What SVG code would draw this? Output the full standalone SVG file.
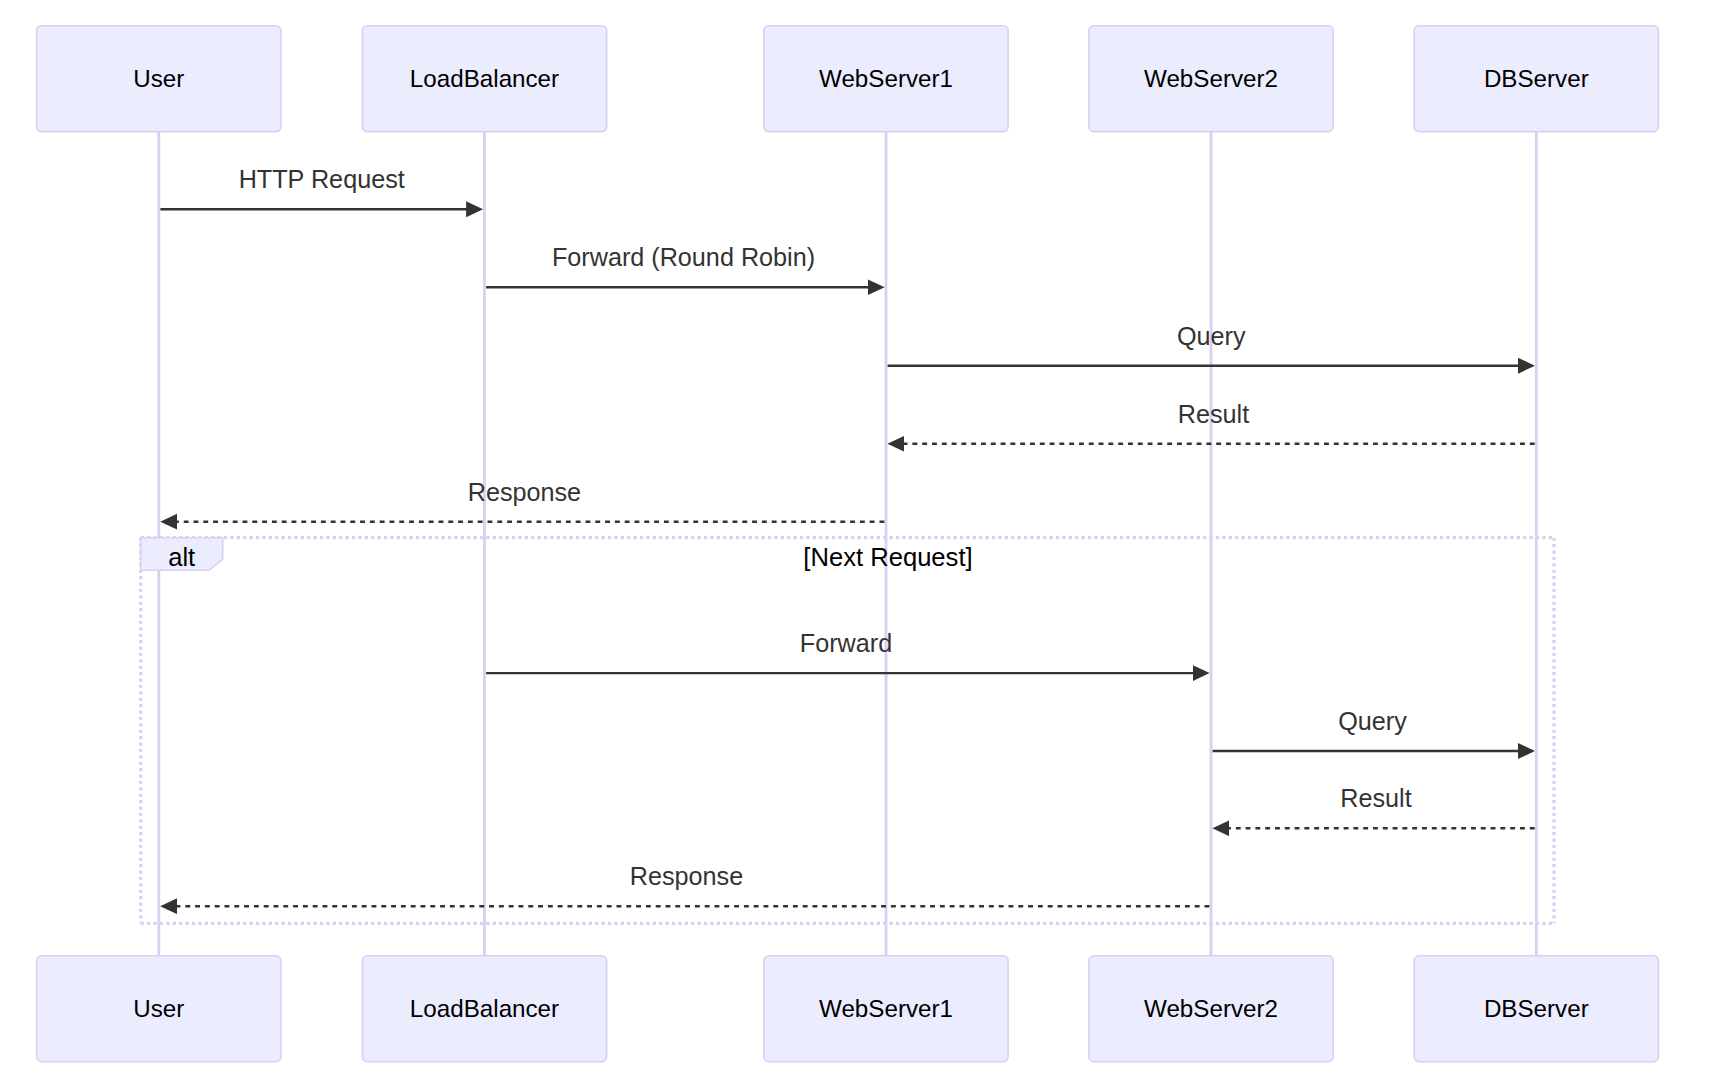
<svg xmlns="http://www.w3.org/2000/svg" width="1712" height="1090" viewBox="0 0 1712 1090">
<style>
.actor{fill:#ECECFF;stroke:#DACEF3;stroke-width:1.6}
.actor-text{font-family:"Liberation Sans",Arial,sans-serif;font-size:24.2px;fill:#000;text-anchor:middle}
.lifeline{stroke:#DACEF3;stroke-width:2.8}
.msg{stroke:#333;stroke-width:2.4;fill:none}
.dashed{stroke-dasharray:4.9,4.9}
.msg-text{font-family:"Liberation Sans",Arial,sans-serif;font-size:25.2px;fill:#333;text-anchor:middle}
.loop-line{stroke:#DACEF3;stroke-width:3.2;stroke-dasharray:3.2,3.2;fill:none}
.label-box{fill:#ECECFF;stroke:#DACEF3;stroke-width:1.6}
.label-text{font-family:"Liberation Sans",Arial,sans-serif;font-size:25.6px;fill:#000;text-anchor:middle}
</style>
<defs>
<marker id="arrowhead" markerUnits="userSpaceOnUse" markerWidth="20" markerHeight="20" refX="13.5" refY="8" orient="auto">
<path d="M0,0 L17,8 L0,16 z" fill="#333"/>
</marker>
</defs>
<rect width="1712" height="1090" fill="#fff"/>
<g id="lifelines">
<line class="lifeline" x1="158.8" y1="131.6" x2="158.8" y2="955.8"/>
<line class="lifeline" x1="484.5" y1="131.6" x2="484.5" y2="955.8"/>
<line class="lifeline" x1="886" y1="131.6" x2="886" y2="955.8"/>
<line class="lifeline" x1="1211" y1="131.6" x2="1211" y2="955.8"/>
<line class="lifeline" x1="1536.3" y1="131.6" x2="1536.3" y2="955.8"/>
</g>
<g id="alt-frame">
<line class="loop-line" x1="140.7" y1="537.7" x2="1554" y2="537.7"/>
<line class="loop-line" x1="1554" y1="537.7" x2="1554" y2="923.3"/>
<line class="loop-line" x1="140.7" y1="923.3" x2="1554" y2="923.3"/>
<line class="loop-line" x1="140.7" y1="537.7" x2="140.7" y2="923.3"/>
<polygon class="label-box" points="140.7,537.7 222.7,537.7 222.7,559 209,570.3 140.7,570.3"/>
<text class="label-text" x="181.7" y="565.5">alt</text>
<text class="label-text" x="888" y="565.5">[Next Request]</text>
</g>
<g id="actor-User">
<rect class="actor" x="36.7" y="25.7" width="244.2" height="105.9" rx="4.9"/>
<text class="actor-text" x="158.8" y="87.4">User</text>
<rect class="actor" x="36.7" y="955.8" width="244.2" height="105.9" rx="4.9"/>
<text class="actor-text" x="158.8" y="1016.8">User</text>
</g>
<g id="actor-LoadBalancer">
<rect class="actor" x="362.4" y="25.7" width="244.2" height="105.9" rx="4.9"/>
<text class="actor-text" x="484.5" y="87.4">LoadBalancer</text>
<rect class="actor" x="362.4" y="955.8" width="244.2" height="105.9" rx="4.9"/>
<text class="actor-text" x="484.5" y="1016.8">LoadBalancer</text>
</g>
<g id="actor-WebServer1">
<rect class="actor" x="763.9" y="25.7" width="244.2" height="105.9" rx="4.9"/>
<text class="actor-text" x="886" y="87.4">WebServer1</text>
<rect class="actor" x="763.9" y="955.8" width="244.2" height="105.9" rx="4.9"/>
<text class="actor-text" x="886" y="1016.8">WebServer1</text>
</g>
<g id="actor-WebServer2">
<rect class="actor" x="1088.9" y="25.7" width="244.2" height="105.9" rx="4.9"/>
<text class="actor-text" x="1211" y="87.4">WebServer2</text>
<rect class="actor" x="1088.9" y="955.8" width="244.2" height="105.9" rx="4.9"/>
<text class="actor-text" x="1211" y="1016.8">WebServer2</text>
</g>
<g id="actor-DBServer">
<rect class="actor" x="1414.2" y="25.7" width="244.2" height="105.9" rx="4.9"/>
<text class="actor-text" x="1536.3" y="87.4">DBServer</text>
<rect class="actor" x="1414.2" y="955.8" width="244.2" height="105.9" rx="4.9"/>
<text class="actor-text" x="1536.3" y="1016.8">DBServer</text>
</g>
<g id="connectors">
<line class="msg" x1="160.4" y1="209.3" x2="479.6" y2="209.3" marker-end="url(#arrowhead)"/>
<text class="msg-text" x="321.7" y="188.3">HTTP Request</text>
<line class="msg" x1="486.1" y1="287.3" x2="881.1" y2="287.3" marker-end="url(#arrowhead)"/>
<text class="msg-text" x="683.5" y="266.3">Forward (Round Robin)</text>
<line class="msg" x1="887.6" y1="365.7" x2="1531.4" y2="365.7" marker-end="url(#arrowhead)"/>
<text class="msg-text" x="1211.2" y="344.7">Query</text>
<line class="msg dashed" x1="1534.7" y1="443.7" x2="890.9" y2="443.7" marker-end="url(#arrowhead)"/>
<text class="msg-text" x="1213.5" y="422.7">Result</text>
<line class="msg dashed" x1="884.4" y1="521.7" x2="163.7" y2="521.7" marker-end="url(#arrowhead)"/>
<text class="msg-text" x="524.4" y="500.7">Response</text>
<line class="msg" x1="486.1" y1="673.1" x2="1206.1" y2="673.1" marker-end="url(#arrowhead)"/>
<text class="msg-text" x="846" y="652.1">Forward</text>
<line class="msg" x1="1212.6" y1="751" x2="1531.4" y2="751" marker-end="url(#arrowhead)"/>
<text class="msg-text" x="1372.5" y="730">Query</text>
<line class="msg dashed" x1="1534.7" y1="828.3" x2="1215.9" y2="828.3" marker-end="url(#arrowhead)"/>
<text class="msg-text" x="1376" y="807.3">Result</text>
<line class="msg dashed" x1="1209.4" y1="906.2" x2="163.7" y2="906.2" marker-end="url(#arrowhead)"/>
<text class="msg-text" x="686.5" y="885.2">Response</text>
</g>
</svg>
